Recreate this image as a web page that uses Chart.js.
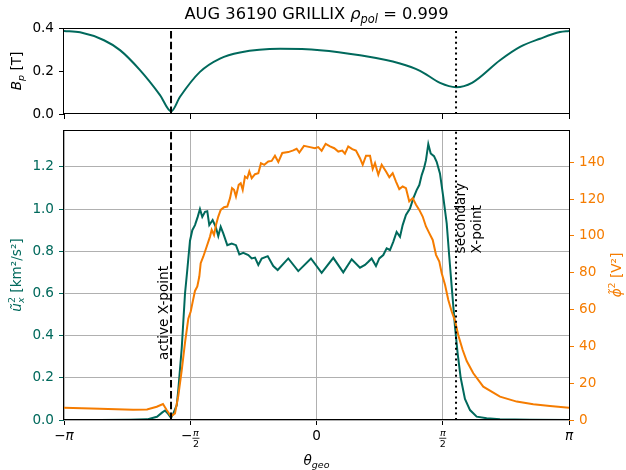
<!DOCTYPE html>
<html>
<head>
<meta charset="utf-8">
<script src="https://cdn.jsdelivr.net/npm/chart.js@4.4.0/dist/chart.umd.min.js"></script>
<style>
  body { margin: 0; background: #fff; }
  #wrap { position: relative; width: 626px; height: 470px; }
  canvas { position: absolute; left: 0; }
</style>
</head>
<body>
<div id="wrap">
  <canvas id="bp" width="626" height="125" style="top:0"></canvas>
  <canvas id="fluct" width="626" height="348" style="top:122px"></canvas>
</div>
<script>
// ---- data ----
const thetaB = [-3.142, -2.942, -2.644, -2.445, -2.196, -1.947, -1.808, -1.698, -1.450, -1.201, -0.952, -0.454,
  0.043, 0.541, 1.039, 1.288, 1.537, 1.736, 1.935, 2.283, 2.532, 2.781, 3.030, 3.142];
const bpVals = [0.386, 0.380, 0.343, 0.297, 0.204, 0.088, 0.012, 0.080, 0.196, 0.258, 0.286, 0.303,
  0.297, 0.273, 0.235, 0.201, 0.145, 0.125, 0.145, 0.250, 0.312, 0.350, 0.381, 0.386];

const thetaU = [-3.142, -2.694, -2.321, -2.109, -1.985, -1.922, -1.885, -1.848, -1.810, -1.782,
  -1.739, -1.720, -1.677, -1.636, -1.608, -1.574, -1.545, -1.512, -1.478, -1.450,
  -1.421, -1.387, -1.359, -1.334, -1.292, -1.254, -1.222, -1.192, -1.160, -1.110,
  -1.055, -1.002, -0.960, -0.911, -0.848, -0.806, -0.765, -0.724, -0.682, -0.607,
  -0.538, -0.483, -0.351, -0.227, -0.069, 0.064, 0.209, 0.333, 0.438, 0.541,
  0.603, 0.645, 0.686, 0.740, 0.781, 0.831, 0.873, 0.914, 0.955, 0.997,
  1.039, 1.072, 1.113, 1.163, 1.204, 1.246, 1.279, 1.309, 1.337, 1.362,
  1.391, 1.421, 1.462, 1.495, 1.536, 1.577, 1.620, 1.652, 1.689, 1.723,
  1.756, 1.794, 1.847, 1.910, 1.993, 2.117, 2.283, 2.656, 3.142];
const uVals = [0, 0.0005, 0.001, 0.003, 0.015, 0.035, 0.045, 0.03, 0.01, 0.03,
  0.07, 0.14, 0.34, 0.60, 0.71, 0.85, 0.90, 0.924, 0.963, 1.00,
  0.963, 0.987, 0.99, 0.924, 0.948, 0.916, 0.872, 0.916, 0.885, 0.829,
  0.837, 0.829, 0.785, 0.793, 0.782, 0.766, 0.77, 0.735, 0.766, 0.777,
  0.730, 0.711, 0.766, 0.706, 0.766, 0.698, 0.769, 0.700, 0.762, 0.722,
  0.735, 0.750, 0.766, 0.730, 0.766, 0.782, 0.814, 0.806, 0.845, 0.892,
  0.869, 0.924, 0.972, 1.003, 1.051, 1.09, 1.114, 1.161, 1.193, 1.232,
  1.308, 1.264, 1.251, 1.224, 1.169, 1.058, 0.932, 0.774, 0.600, 0.442,
  0.316, 0.200, 0.100, 0.047, 0.016, 0.008, 0.003, 0.001, 0];

const thetaPhi = [-3.142, -2.694, -2.283, -2.109, -1.988, -1.910, -1.864, -1.810, -1.761, -1.720,
  -1.677, -1.636, -1.595, -1.565, -1.540, -1.512, -1.483, -1.458, -1.441, -1.408,
  -1.366, -1.325, -1.304, -1.275, -1.250, -1.222, -1.192, -1.151, -1.110, -1.076,
  -1.051, -1.026, -1.002, -0.968, -0.943, -0.918, -0.890, -0.861, -0.836, -0.806,
  -0.765, -0.724, -0.691, -0.650, -0.600, -0.558, -0.517, -0.475, -0.426, -0.351,
  -0.289, -0.247, -0.214, -0.156, -0.081, -0.019, 0.022, 0.064, 0.114, 0.168,
  0.221, 0.271, 0.321, 0.354, 0.395, 0.445, 0.491, 0.541, 0.575, 0.616,
  0.666, 0.699, 0.728, 0.769, 0.811, 0.865, 0.906, 0.948, 0.989, 1.030,
  1.072, 1.113, 1.154, 1.197, 1.238, 1.279, 1.321, 1.362, 1.403, 1.446,
  1.487, 1.528, 1.558, 1.599, 1.640, 1.682, 1.723, 1.764, 1.819, 1.869,
  1.951, 2.075, 2.283, 2.491, 2.697, 2.905, 3.142];
const phiVals = [6.7, 6.1, 5.6, 5.7, 7.2, 8.7, 5.4, 2.0, 3.6, 13,
  27, 42, 55, 58.9, 64.3, 70.1, 72.5, 77.9, 85.2, 88.8,
  94.2, 99.6, 103.3, 100.5, 106, 110.5, 114.1, 115.6, 115.9, 120.5,
  125.9, 125, 121.4, 127.7, 128.6, 125, 132.2, 131.3, 135, 131.3,
  133.5, 134, 139.5, 138.6, 140.4, 140.7, 143.5, 140.1, 145, 145.5,
  146.4, 147.3, 145.3, 148.9, 148.2, 147.6, 148.2, 146.2, 150, 148.6,
  147.6, 145.8, 146.3, 144.6, 148.6, 147.1, 146.3, 142.2, 138.6, 143.5,
  143.5, 136.3, 139.5, 133.2, 138.6, 135, 131.9, 134.1, 129.5, 125.4,
  126.8, 125.9, 118.7, 120.5, 116.9, 114.1, 110.5, 105.1, 101.5, 97.8,
  89.7, 86, 79.7, 73.4, 65.2, 58.9, 54, 46, 38, 32,
  25.4, 18.1, 12.7, 10, 8.5, 7.6, 6.7];

const xActive = -1.810;     // active X-point
const xSecondary = 1.736;   // secondary X-point

const xTicks = [-Math.PI, -Math.PI / 2, 0, Math.PI / 2, Math.PI];
const bpTicks = [0, 0.2, 0.4];
const uTicks = [0, 0.2, 0.4, 0.6, 0.8, 1.0, 1.2];
const phiTicks = [0, 20, 40, 60, 80, 100, 120, 140];

// ---- styling ----
const TEAL = '#00695c';
const ORANGE = '#f57c00';
const FAM = '"DejaVu Sans"';
const FS = 13.6, FSS = 9.5;
const f = (sz, it) => (it ? 'italic ' : '') + sz + 'px ' + FAM;
Chart.defaults.font.family = 'DejaVu Sans';
Chart.defaults.font.size = FS;
Chart.defaults.color = '#000';

const pts = (xs, ys) => xs.map((x, i) => ({ x: x, y: ys[i] }));

// rich text: parts drawn left to right, centred on x, baseline y
function partW(ctx, p) {
  if (p.sup !== undefined) {
    ctx.font = p.supF; const a = ctx.measureText(p.sup).width;
    ctx.font = p.subF; const b = ctx.measureText(p.sub).width;
    return Math.max(a, b);
  }
  ctx.font = p.f;
  return ctx.measureText(p.t).width;
}
function drawRich(ctx, parts, x, y) {
  let w = 0;
  parts.forEach(p => { w += partW(ctx, p); });
  let cx = x - w / 2;
  ctx.textAlign = 'left';
  ctx.textBaseline = 'alphabetic';
  parts.forEach(p => {
    const pw = partW(ctx, p);
    if (p.sup !== undefined) {
      ctx.font = p.supF; ctx.fillText(p.sup, cx, y + p.supDy);
      ctx.font = p.subF; ctx.fillText(p.sub, cx, y + p.subDy);
    } else {
      ctx.font = p.f; ctx.fillText(p.t, cx, y + (p.dy || 0));
    }
    cx += pw;
  });
}

const framePlugin = {
  id: 'frame',
  afterDatasetsDraw(chart) {
    const a = chart.chartArea, ctx = chart.ctx;
    ctx.save();
    ctx.strokeStyle = '#000';
    ctx.lineWidth = 1;
    ctx.strokeRect(Math.round(a.left) - 0.5, Math.round(a.top) + 0.5,
      Math.round(a.right - a.left) + 1, Math.round(a.bottom - a.top) - 1);
    ctx.restore();
  }
};

function vline(x, y0, y1, dash, yAxis) {
  return {
    data: [{ x: x, y: y0 }, { x: x, y: y1 }],
    borderColor: '#000', borderWidth: 2, borderDash: dash,
    pointRadius: 0, tension: 0, yAxisID: yAxis, order: 0
  };
}
const DASHED = [7.5, 3.3];
const DOTTED = [2, 3.4];

// fixed axis sizes, no label overhang padding
function fixW(w) {
  return s => { s.width = w; s.paddingTop = 0; s.paddingBottom = 0; };
}
function fixH(h) {
  return s => { s.height = h; s.paddingLeft = 0; s.paddingRight = 0; };
}

function xScale(height, gridOnArea) {
  return {
    type: 'linear', min: -Math.PI, max: Math.PI,
    afterBuildTicks: s => { s.ticks = xTicks.map(v => ({ value: v })); },
    ticks: { display: false },
    grid: { drawOnChartArea: gridOnArea, color: '#b0b0b0', lineWidth: 1,
      tickColor: '#000', tickLength: 5, tickWidth: 1 },
    border: { display: false },
    afterFit: fixH(height)
  };
}

// ---- top panel: B_p ----
new Chart(document.getElementById('bp'), {
  type: 'line',
  data: {
    datasets: [
      { data: pts(thetaB, bpVals), borderColor: TEAL, borderWidth: 2, pointRadius: 0,
        cubicInterpolationMode: 'monotone', yAxisID: 'y', order: 1 },
      vline(xActive, 0, 0.4, DASHED, 'y'),
      vline(xSecondary, 0, 0.4, DOTTED, 'y')
    ]
  },
  options: {
    responsive: false, animation: false, devicePixelRatio: 1,
    layout: { padding: { left: 0, right: 57, top: 28, bottom: 0 } },
    plugins: { legend: { display: false }, tooltip: { enabled: false } },
    scales: {
      x: xScale(11, false),
      y: {
        position: 'left', min: 0, max: 0.4,
        afterBuildTicks: s => { s.ticks = bpTicks.map(v => ({ value: v })); },
        ticks: { padding: 5, color: '#000', callback: v => v.toFixed(1) },
        grid: { drawOnChartArea: false, tickColor: '#000', tickLength: 5 },
        border: { display: false },
        afterFit: fixW(64)
      }
    }
  },
  plugins: [framePlugin, {
    id: 'topText',
    afterDraw(chart) {
      const ctx = chart.ctx, a = chart.chartArea;
      ctx.save();
      ctx.fillStyle = '#000';
      drawRich(ctx, [
        { t: 'AUG 36190 GRILLIX ', f: f(16.3) },
        { t: 'ρ', f: f(16.3, true) },
        { t: 'pol', f: f(11.4, true), dy: 3.5 },
        { t: ' = 0.999', f: f(16.3) }
      ], (a.left + a.right) / 2, 19);
      ctx.translate(21, (a.top + a.bottom) / 2);
      ctx.rotate(-Math.PI / 2);
      drawRich(ctx, [
        { t: 'B', f: f(FS, true) },
        { t: 'p', f: f(FSS, true), dy: 2.8 },
        { t: ' [T]', f: f(FS) }
      ], 0, 0);
      ctx.restore();
    }
  }]
});

// ---- bottom panel: fluctuation amplitudes ----
const U_MAX = 1.375, PHI_MAX = 157.5;
new Chart(document.getElementById('fluct'), {
  type: 'line',
  data: {
    datasets: [
      { data: pts(thetaPhi, phiVals), borderColor: ORANGE, borderWidth: 2, pointRadius: 0,
        tension: 0, yAxisID: 'yR', order: 1 },
      { data: pts(thetaU, uVals), borderColor: TEAL, borderWidth: 2, pointRadius: 0,
        tension: 0, yAxisID: 'yL', order: 2 },
      vline(xActive, 0, U_MAX, DASHED, 'yL'),
      vline(xSecondary, 0, U_MAX, DOTTED, 'yL')
    ]
  },
  options: {
    responsive: false, animation: false, devicePixelRatio: 1,
    layout: { padding: { left: 0, right: 0, top: 8, bottom: 0 } },
    plugins: { legend: { display: false }, tooltip: { enabled: false } },
    scales: {
      x: xScale(50, true),
      yL: {
        position: 'left', min: 0, max: U_MAX,
        afterBuildTicks: s => { s.ticks = uTicks.map(v => ({ value: v })); },
        ticks: { padding: 5, color: TEAL, callback: v => v.toFixed(1) },
        grid: { color: '#b0b0b0', lineWidth: 1, tickColor: TEAL, tickLength: 5 },
        border: { display: false },
        afterFit: fixW(64)
      },
      yR: {
        position: 'right', min: 0, max: PHI_MAX,
        afterBuildTicks: s => { s.ticks = phiTicks.map(v => ({ value: v })); },
        ticks: { padding: 5, color: ORANGE, callback: v => String(v) },
        grid: { drawOnChartArea: false, tickColor: ORANGE, tickLength: 5 },
        border: { display: false },
        afterFit: fixW(57)
      }
    }
  },
  plugins: [framePlugin, {
    id: 'bottomText',
    afterDatasetsDraw(chart) {
      const ctx = chart.ctx, sx = chart.scales.x, sy = chart.scales.yL;
      ctx.save();
      ctx.fillStyle = '#000';
      ctx.font = f(FS);
      ctx.textAlign = 'left';
      ctx.textBaseline = 'alphabetic';
      let px = sx.getPixelForValue(xActive);
      ctx.save();
      ctx.translate(px - 3, sy.getPixelForValue(0.285));
      ctx.rotate(-Math.PI / 2);
      ctx.fillText('active X-point', 0, 0);
      ctx.restore();
      px = sx.getPixelForValue(xSecondary);
      ctx.save();
      ctx.translate(px + 9, sy.getPixelForValue(0.79));
      ctx.rotate(-Math.PI / 2);
      ctx.fillText('secondary', 0, 0);
      ctx.fillText('X-point', 0, 15.5);
      ctx.restore();
      ctx.restore();
    },
    afterDraw(chart) {
      const ctx = chart.ctx, a = chart.chartArea, sx = chart.scales.x;
      const midY = (a.top + a.bottom) / 2;
      ctx.save();
      ctx.fillStyle = '#000';
      const base = a.bottom + 20;
      // x tick labels
      xTicks.forEach((v, i) => {
        const px = sx.getPixelForValue(v);
        if (i === 2) {
          drawRich(ctx, [{ t: '0', f: f(FS) }], px, base);
        } else if (i === 0 || i === 4) {
          drawRich(ctx, i === 0 ? [{ t: '−', f: f(FS) }, { t: 'π', f: f(FS, true) }]
            : [{ t: 'π', f: f(FS, true) }], px, base);
        } else {
          ctx.font = f(FS);
          const mw = i === 1 ? ctx.measureText('−').width : 0;
          ctx.font = f(FSS);
          const fw = ctx.measureText('2').width + 1;
          const x0 = px - (mw + fw) / 2;
          ctx.textAlign = 'left';
          ctx.textBaseline = 'alphabetic';
          if (i === 1) { ctx.font = f(FS); ctx.fillText('−', x0, base); }
          const fc = x0 + mw + fw / 2;
          ctx.textAlign = 'center';
          ctx.font = f(FSS, true);
          ctx.fillText('π', fc, base - 4);
          ctx.font = f(FSS);
          ctx.fillText('2', fc, base + 7);
          ctx.fillRect(x0 + mw, base - 2.2, fw, 0.8);
        }
      });
      // x axis label
      drawRich(ctx, [{ t: 'θ', f: f(FS, true) }, { t: 'geo', f: f(FSS, true), dy: 2.8 }],
        (a.left + a.right) / 2, a.bottom + 45);
      // left y label
      ctx.fillStyle = TEAL;
      ctx.save();
      ctx.translate(21, midY);
      ctx.rotate(-Math.PI / 2);
      drawRich(ctx, [
        { t: 'ũ', f: f(FS, true) },
        { sup: '2', sub: 'x', supF: f(FSS), subF: f(FSS, true), supDy: -6, subDy: 3 },
        { t: ' [km²/s²]', f: f(FS) }
      ], 0, 0);
      ctx.restore();
      // right y label
      ctx.fillStyle = ORANGE;
      ctx.save();
      ctx.translate(621, midY);
      ctx.rotate(-Math.PI / 2);
      drawRich(ctx, [
        { t: 'ϕ\u0303', f: f(FS, true) },
        { t: '2', f: f(FSS), dy: -6 },
        { t: ' [V²]', f: f(FS) }
      ], 0, 0);
      ctx.restore();
      ctx.restore();
    }
  }]
});
</script>
</body>
</html>
